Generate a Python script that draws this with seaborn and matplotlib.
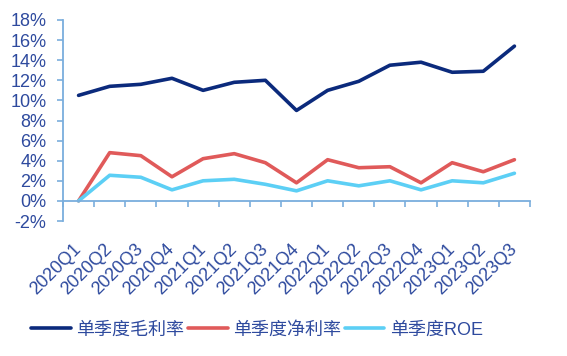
import matplotlib
matplotlib.use("Agg")
import matplotlib.pyplot as plt
import seaborn as sns
import pandas as pd
import numpy as np
from matplotlib.ticker import FixedLocator, FuncFormatter

quarters = ["2020Q1", "2020Q2", "2020Q3", "2020Q4", "2021Q1", "2021Q2", "2021Q3", "2021Q4",
            "2022Q1", "2022Q2", "2022Q3", "2022Q4", "2023Q1", "2023Q2", "2023Q3"]
gross_margin = [10.5, 11.4, 11.6, 12.2, 11.0, 11.8, 12.0, 9.0, 11.0, 11.9, 13.5, 13.8, 12.8, 12.9, 15.4]
net_margin = [0.0, 4.8, 4.5, 2.4, 4.2, 4.7, 3.8, 1.8, 4.1, 3.3, 3.4, 1.8, 3.8, 2.9, 4.1]
roe = [0.0, 2.55, 2.35, 1.1, 2.0, 2.15, 1.65, 1.0, 2.0, 1.5, 2.0, 1.1, 2.0, 1.8, 2.75]
series_names = ["单季度毛利率", "单季度净利率", "单季度ROE"]
colors = ["#0B2A7C", "#E05A5A", "#5CCFF5"]

sns.set_theme(style="white")
plt.rcParams['font.family'] = ['Liberation Sans', 'Noto Sans CJK SC', 'DejaVu Sans']
plt.rcParams['axes.unicode_minus'] = False

text_color = "#2E4A9E"
axis_color = "#7AAEDD"

rows = []
for name, vals in zip(series_names, [gross_margin, net_margin, roe]):
    for i, (q, v) in enumerate(zip(quarters, vals)):
        rows.append({"idx": i, "quarter": q, "series": name, "value": v})
df = pd.DataFrame(rows)

fig = plt.figure(figsize=(5.67, 3.56), dpi=100)
ax = fig.add_axes([63/567, 1 - 221/356, (530 - 63)/567, (221 - 20)/356])

sns.lineplot(data=df, x="idx", y="value", hue="series", hue_order=series_names,
             palette=colors, linewidth=2.6, ax=ax, legend=True)

n = len(quarters)
ax.set_xlim(-0.5, n - 0.5)
ax.set_ylim(-2, 18)
ax.set_xlabel("")
ax.set_ylabel("")

for s in ["top", "right"]:
    ax.spines[s].set_visible(False)
ax.spines["bottom"].set_position(("data", 0))
ax.spines["bottom"].set_color(axis_color)
ax.spines["left"].set_color(axis_color)
ax.spines["bottom"].set_linewidth(1.3)
ax.spines["left"].set_linewidth(1.3)

ax.set_yticks(np.arange(-2, 19, 2))
ax.yaxis.set_major_formatter(FuncFormatter(lambda v, p: f"{int(round(v))}%"))
ax.tick_params(axis="y", direction="out", length=4, width=1.2, color=axis_color,
               labelsize=13, labelcolor=text_color, pad=8, left=True)

ax.set_xticks(np.arange(n))
ax.set_xticklabels(quarters)
ax.xaxis.set_minor_locator(FixedLocator(np.arange(-0.5, n, 1.0)))
ax.tick_params(axis="x", which="major", length=0, pad=33, labelsize=13, labelcolor=text_color)
ax.tick_params(axis="x", which="minor", direction="out", length=4, width=1.2, color=axis_color, bottom=True)
for lbl in ax.get_xticklabels():
    lbl.set_rotation(45)
    lbl.set_ha("right")
    lbl.set_va("center")
    lbl.set_rotation_mode("anchor")

ax.grid(False)

handles, labels = ax.get_legend_handles_labels()
ax.legend_.remove()
leg = fig.legend(handles, labels, loc="center", bbox_to_anchor=(257/567, 1 - 330/356),
                 ncol=3, frameon=False, fontsize=13, handlelength=2.2, handletextpad=0.3,
                 columnspacing=0.2, borderpad=0)
for t in leg.get_texts():
    t.set_color(text_color)
for h in leg.get_lines():
    h.set_linewidth(2.6)

fig.savefig("out.png", dpi=100)
